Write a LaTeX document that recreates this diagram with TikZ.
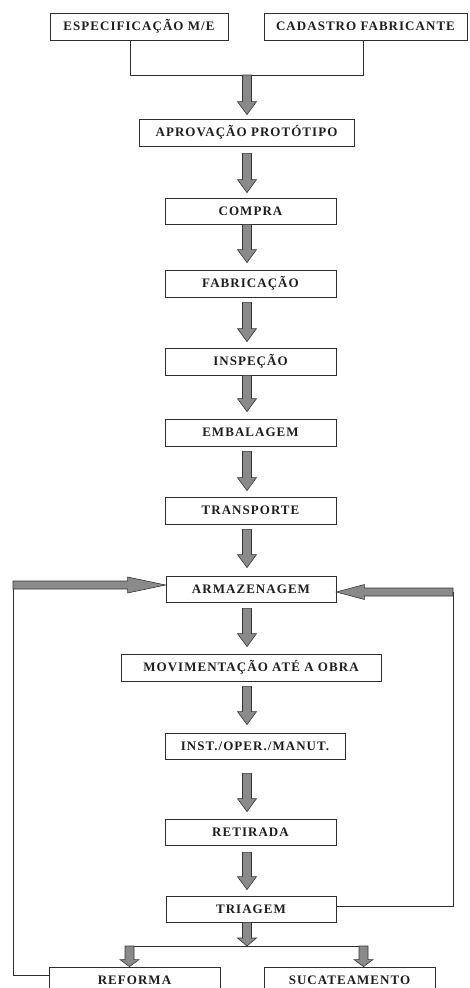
\documentclass[tikz,border=0pt]{standalone}
\usepackage{fontspec}
\setmainfont{Liberation Serif}
\newfontfamily\boxfont[LetterSpace=8]{Liberation Serif}
\usetikzlibrary{calc}
\definecolor{arrowfill}{HTML}{8A8A8A}
\definecolor{arrowline}{HTML}{353535}
\definecolor{boxline}{HTML}{2E2E2E}
\definecolor{txt}{HTML}{1E1E1E}
\tikzset{
  box/.style={draw=boxline, line width=0.8pt, fill=white, rectangle, inner sep=0pt,
    minimum height=27pt, text=txt, font=\boxfont\fontsize{13}{15}\selectfont\bfseries},
  blockarrow/.style={fill=arrowfill, draw=arrowline, line width=0.6pt, line join=miter},
  link/.style={draw=boxline, line width=0.8pt},
}
% vertical block arrow: #2 top of shaft, #3 tip (x taken from #2), #1 head length
\newcommand\vblock[3][13pt]{%
  \filldraw[blockarrow] let \p1=(#2), \p2=(#3) in
    (\x1-4.5pt,\y1) -- (\x1+4.5pt,\y1) -- (\x1+4.5pt,\y2+#1) -- (\x1+9.5pt,\y2+#1)
    -- (\x1,\y2) -- (\x1-9.5pt,\y2+#1) -- (\x1-4.5pt,\y2+#1) -- cycle;}
\begin{document}
\begin{tikzpicture}[x=1pt,y=-1pt]
\useasboundingbox (0,0) rectangle (469,988);
\clip (0,0) rectangle (469,988);
\coordinate (col) at (247,0);

% boxes
\node[box, minimum width=178pt] (esp) at (139,26.5) {ESPECIFICAÇÃO M/E};
\node[box, minimum width=203pt] (cad) at (365.5,26.5) {CADASTRO FABRICANTE};
\node[box, minimum width=215pt] (apr) at (246.5,132.5) {APROVAÇÃO PROTÓTIPO};
\node[box, minimum width=171pt, minimum height=26pt] (com) at (250.5,211) {COMPRA};
\node[box, minimum width=171pt] (fab) at (250.5,283.5) {FABRICAÇÃO};
\node[box, minimum width=171pt] (insp) at (250.5,361.5) {INSPEÇÃO};
\node[box, minimum width=171pt] (emb) at (250.5,432.5) {EMBALAGEM};
\node[box, minimum width=171pt] (tra) at (250.5,510.5) {TRANSPORTE};
\node[box, minimum width=170pt, minimum height=26pt] (arm) at (251,589) {ARMAZENAGEM};
\node[box, minimum width=260pt] (mov) at (251,667.5) {MOVIMENTAÇÃO ATÉ A OBRA};
\node[box, minimum width=180pt, minimum height=26pt] (inst) at (255,746) {INST./OPER./MANUT.};
\node[box, minimum width=171pt, minimum height=26pt] (ret) at (250.5,832) {RETIRADA};
\node[box, minimum width=170pt, minimum height=26pt] (tri) at (251,909) {TRIAGEM};
\node[box, minimum width=171pt] (ref) at (134.5,980.5) {REFORMA};
\node[box, minimum width=171pt] (suc) at (349.5,980.5) {SUCATEAMENTO};

% top junction
\coordinate (jl) at (130,75);
\coordinate (jr) at (363,75);
\draw[link] (esp.south -| jl) -- (jl) -- (jr) -- (cad.south -| jr);
\vblock{$(jl -| col)$}{$(apr.north -| col)+(0,-4)$}

% main chain
\vblock{$(apr.south -| col)+(0,7)$}{$(com.north -| col)+(0,-5)$}
\vblock{$(com.south -| col)$}{$(fab.north -| col)+(0,-7)$}
\vblock{$(fab.south -| col)+(0,5)$}{$(insp.north -| col)+(0,-6)$}
\vblock{$(insp.south -| col)$}{$(emb.north -| col)+(0,-7)$}
\vblock{$(emb.south -| col)+(0,5)$}{$(tra.north -| col)+(0,-6)$}
\vblock{$(tra.south -| col)+(0,5)$}{$(arm.north -| col)+(0,-8)$}
\vblock{$(arm.south -| col)+(0,6)$}{$(mov.north -| col)+(0,-7)$}
\vblock{$(mov.south -| col)+(0,5)$}{$(inst.north -| col)+(0,-8)$}
\vblock{$(inst.south -| col)+(0,14)$}{$(ret.north -| col)+(0,-7)$}
\vblock{$(ret.south -| col)+(0,7)$}{$(tri.north -| col)+(0,-6)$}

% fork below TRIAGEM
\coordinate (lf) at (129.5,946);
\coordinate (rf) at (363.5,946);
\draw[link] ($(lf)+(-4.5,0)$) -- ($(rf)+(4.5,0)$);
\vblock[8pt]{$(tri.south -| col)$}{$(lf -| col)$}
\vblock[7pt]{$(lf)$}{$(ref.north -| lf)$}
\vblock[7pt]{$(rf)$}{$(suc.north -| rf)$}

% feedback loops
\coordinate (lstart) at (13,585);
\coordinate (lcorner) at (13,975);
\draw[link] (lstart) -- (lcorner) -- (lcorner -| ref.west);
\filldraw[blockarrow] let \p1=(lstart), \p2=($(arm.west)+(0,-4)$) in
  (\x1,\y2+4pt) -- (\x2-38pt,\y2+4pt) -- (\x2-38pt,\y2+8pt) -- (\x2,\y2)
  -- (\x2-38pt,\y2-8pt) -- (\x2-38pt,\y2-4pt) -- (\x1,\y2-4pt) -- cycle;

\coordinate (rstart) at (453,592);
\coordinate (rcorner) at (453,906);
\draw[link] (rstart) -- (rcorner) -- (rcorner -| tri.east);
\filldraw[blockarrow] let \p1=(rstart), \p2=($(arm.east)+(0,3)$) in
  (\x1,\y2+4pt) -- (\x2+28pt,\y2+4pt) -- (\x2+28pt,\y2+7.5pt) -- (\x2,\y2)
  -- (\x2+28pt,\y2-7.5pt) -- (\x2+28pt,\y2-4pt) -- (\x1,\y2-4pt) -- cycle;
\end{tikzpicture}
\end{document}
